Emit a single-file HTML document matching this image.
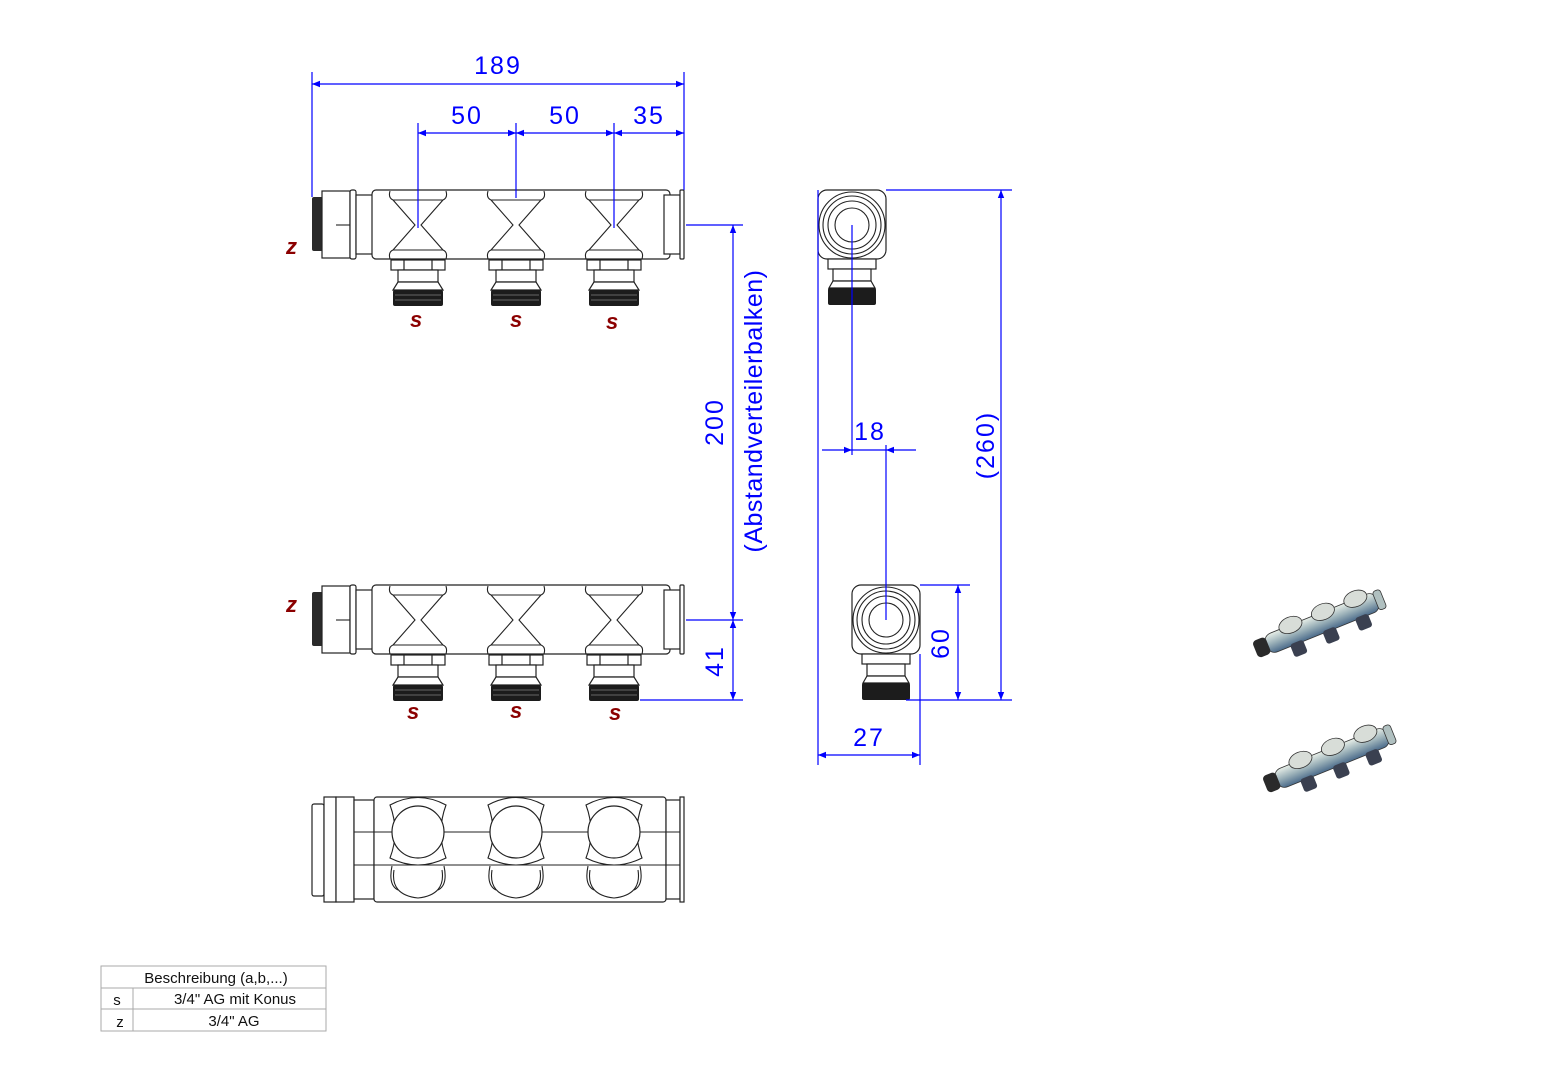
<!DOCTYPE html>
<html><head><meta charset="utf-8"><style>
html,body{margin:0;padding:0;background:#fff;width:1541px;height:1080px;overflow:hidden}
svg{display:block}
.d{stroke:#0000ff;stroke-width:1.2;fill:none}
.t{fill:#0000ff;font-family:"Liberation Sans",sans-serif;font-size:25px;letter-spacing:2px}
.k{stroke:#222;stroke-width:1.2;fill:#fff}
.kn{stroke:#222;stroke-width:1.1;fill:none}
.s{fill:#8b0000;font-family:"Liberation Sans",sans-serif;font-size:22px;font-weight:bold;font-style:italic}
.tb{font-family:"Liberation Sans",sans-serif;font-size:15px;fill:#111}
</style></head><body>
<svg width="1541" height="1080" viewBox="0 0 1541 1080" xmlns="http://www.w3.org/2000/svg">
<defs>
<marker id="a" viewBox="0 0 10 10" refX="10" refY="5" markerWidth="14" markerHeight="8" orient="auto-start-reverse" markerUnits="userSpaceOnUse"><path d="M0,1 L10,5 L0,9 z" fill="#0000ff"/></marker>
<g id="out">
 <rect class="k" x="-27" y="260" width="54" height="10"/>
 <rect class="k" x="-14" y="260" width="28" height="10"/>
 <rect class="k" x="-20" y="270" width="40" height="12"/>
 <path class="k" d="M-20,282 L20,282 L25,290 L-25,290 z"/>
 <rect x="-25" y="290" width="50" height="16" fill="#1c1c1c" rx="2"/>
 <path d="M-23,295 H23 M-23,300 H23" stroke="#666" stroke-width="1"/>
</g>
<g id="hg">
 <path class="kn" d="M-28,191 Q-30,198 -25,200 L-3,225 L-25,250 Q-30,252 -28,259 M28,191 Q30,198 25,200 L3,225 L25,250 Q30,252 28,259 M-25,200 H25 M-25,250 H25"/>
</g>
<g id="bc"><path class="kn" d="M-28,805 Q0,790 28,805 Q18,832 28,858 Q0,872 -28,858 Q-18,832 -28,805 z"/>
 <circle class="k" cx="0" cy="832" r="26"/>
 <path class="kn" d="M-24,870 Q-28,895 0,898 Q28,895 24,870"/>
 <path class="kn" d="M-26,866 Q-30,885 -20,890 M26,866 Q30,885 20,890"/></g>
<g id="man">
 <rect x="312" y="197" width="11" height="54" fill="#2a2a2a" rx="2"/>
 <rect class="k" x="322" y="191" width="28" height="67"/>
 <line class="kn" x1="336" y1="225" x2="350" y2="225"/>
 <rect class="k" x="350" y="190" width="6" height="69" rx="2"/>
 <rect class="k" x="356" y="195" width="17" height="59"/>
 <rect class="k" x="372" y="190" width="298" height="69" rx="4"/>
 <rect class="k" x="664" y="195" width="16" height="59"/>
 <rect class="k" x="680" y="190" width="4" height="69" rx="1"/>
 <use href="#hg" x="418"/><use href="#hg" x="516"/><use href="#hg" x="614"/>
 <use href="#out" x="418"/><use href="#out" x="516"/><use href="#out" x="614"/>
</g>
<g id="side">
 <rect class="k" x="-34" y="-35" width="68" height="69" rx="9"/>
 <circle class="kn" cx="0" cy="0" r="33"/>
 <circle class="kn" cx="0" cy="0" r="29"/>
 <circle class="kn" cx="0" cy="0" r="24"/>
 <circle class="kn" cx="0" cy="0" r="17"/>
 <rect class="k" x="-24" y="34" width="48" height="10"/>
 <rect class="k" x="-19" y="44" width="38" height="12"/>
 <path class="k" d="M-19,56 L19,56 L23,63 L-23,63 z"/>
 <rect x="-24" y="63" width="48" height="17" fill="#1c1c1c" rx="2"/>
</g>
<linearGradient id="g3" x1="0" y1="0" x2="0" y2="1"><stop offset="0" stop-color="#e8efe8"/><stop offset="0.5" stop-color="#9ab0b8"/><stop offset="1" stop-color="#4a6a8a"/></linearGradient>
<g id="iso">
 <rect x="-60" y="-10" width="120" height="20" rx="8" fill="url(#g3)" stroke="#333" stroke-width="0.8"/>
 <ellipse cx="-30" cy="-10" rx="12" ry="8" fill="#d8ddd8" stroke="#333" stroke-width="0.8"/>
 <ellipse cx="5" cy="-10" rx="12" ry="8" fill="#d8ddd8" stroke="#333" stroke-width="0.8"/>
 <ellipse cx="40" cy="-10" rx="12" ry="8" fill="#d8ddd8" stroke="#333" stroke-width="0.8"/>
 <rect x="-38" y="8" width="14" height="14" fill="#3a4050" rx="3"/>
 <rect x="-3" y="8" width="14" height="14" fill="#3a4050" rx="3"/>
 <rect x="32" y="8" width="14" height="14" fill="#3a4050" rx="3"/>
 <rect x="-72" y="-9" width="14" height="18" fill="#2a2a2a" rx="4"/>
 <rect x="58" y="-10" width="8" height="20" fill="#b0c0c0" stroke="#333" stroke-width="0.8" rx="3"/>
</g>
</defs>

<use href="#man"/>
<use href="#man" y="395"/>

<text class="s" x="286" y="254">z</text>
<text class="s" x="410" y="327">s</text>
<text class="s" x="510" y="327">s</text>
<text class="s" x="606" y="329">s</text>
<text class="s" x="286" y="612">z</text>
<text class="s" x="407" y="719">s</text>
<text class="s" x="510" y="718">s</text>
<text class="s" x="609" y="720">s</text>

<!-- bottom view -->
<g>
 <rect class="k" x="312" y="804" width="12" height="92" rx="2"/>
 <rect class="k" x="324" y="797" width="12" height="105"/>
 <rect class="k" x="336" y="797" width="18" height="105"/>
 <rect class="k" x="354" y="800" width="20" height="99"/>
 <rect class="k" x="374" y="797" width="292" height="105" rx="3"/>
 <rect class="k" x="666" y="800" width="14" height="99"/>
 <rect class="k" x="680" y="797" width="4" height="105"/>
 <path class="kn" d="M354,832 H680 M354,865 H680"/>
</g>
<use href="#bc" x="418"/><use href="#bc" x="516"/><use href="#bc" x="614"/>

<!-- side views -->
<use href="#side" x="852" y="225"/>
<use href="#side" x="886" y="620"/>

<!-- dims: 189 -->
<path class="d" d="M312,72 V197 M684,72 V190"/>
<line class="d" x1="312" y1="84" x2="684" y2="84" marker-start="url(#a)" marker-end="url(#a)"/>
<text class="t" x="498" y="74" text-anchor="middle">189</text>
<path class="d" d="M418,123 V228 M516,123 V198 M614,123 V228"/>
<line class="d" x1="418" y1="133" x2="516" y2="133" marker-start="url(#a)" marker-end="url(#a)"/>
<line class="d" x1="516" y1="133" x2="614" y2="133" marker-start="url(#a)" marker-end="url(#a)"/>
<line class="d" x1="614" y1="133" x2="684" y2="133" marker-start="url(#a)" marker-end="url(#a)"/>
<text class="t" x="467" y="124" text-anchor="middle">50</text>
<text class="t" x="565" y="124" text-anchor="middle">50</text>
<text class="t" x="649" y="124" text-anchor="middle">35</text>

<!-- 200 / 41 -->
<path class="d" d="M686,225 H743 M686,620 H743 M640,700 H743"/>
<line class="d" x1="733" y1="225" x2="733" y2="620" marker-start="url(#a)" marker-end="url(#a)"/>
<line class="d" x1="733" y1="620" x2="733" y2="700" marker-start="url(#a)" marker-end="url(#a)"/>
<text class="t" transform="translate(723,422) rotate(-90)" text-anchor="middle">200</text>
<text class="t" transform="translate(762,411) rotate(-90)" text-anchor="middle" style="letter-spacing:0.5px">(Abstandverteilerbalken)</text>
<text class="t" transform="translate(723,661) rotate(-90)" text-anchor="middle">41</text>

<!-- side dims -->
<path class="d" d="M886,190 H1012 M920,585 H970 M906,700 H1012 M818,190 V765 M920,654 V765 M852,225 V455 M886,445 V620"/>
<line class="d" x1="1001" y1="190" x2="1001" y2="700" marker-start="url(#a)" marker-end="url(#a)"/>
<text class="t" transform="translate(994,445) rotate(-90)" text-anchor="middle">(260)</text>
<line class="d" x1="958" y1="585" x2="958" y2="700" marker-start="url(#a)" marker-end="url(#a)"/>
<text class="t" transform="translate(949,643) rotate(-90)" text-anchor="middle">60</text>
<line class="d" x1="822" y1="450" x2="852" y2="450" marker-end="url(#a)"/>
<line class="d" x1="916" y1="450" x2="886" y2="450" marker-end="url(#a)"/>
<line class="d" x1="852" y1="450" x2="886" y2="450"/>
<text class="t" x="870" y="440" text-anchor="middle">18</text>
<line class="d" x1="818" y1="755" x2="920" y2="755" marker-start="url(#a)" marker-end="url(#a)"/>
<text class="t" x="869" y="746" text-anchor="middle">27</text>

<!-- 3D -->
<use href="#iso" transform="translate(1322,623) rotate(-22)"/>
<use href="#iso" transform="translate(1332,758) rotate(-22)"/>

<!-- table -->
<g stroke="#aaa" stroke-width="1" fill="none">
 <rect x="101" y="966" width="225" height="65"/>
 <path d="M101,988 H326 M101,1009 H326 M133,988 V1031"/>
</g>
<text class="tb" x="216" y="983" text-anchor="middle">Beschreibung (a,b,...)</text>
<text class="tb" x="117" y="1005" text-anchor="middle">s</text>
<text class="tb" x="235" y="1004" text-anchor="middle">3/4" AG mit Konus</text>
<text class="tb" x="120" y="1027" text-anchor="middle">z</text>
<text class="tb" x="234" y="1026" text-anchor="middle">3/4" AG</text>
</svg>
</body></html>
